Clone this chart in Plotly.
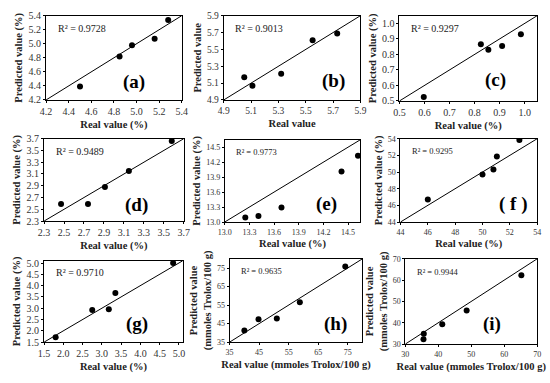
import plotly.graph_objects as go

# ---- data ----
panel_labels = ["(a)", "(b)", "(c)", "(d)", "(e)", "( f )", "(g)", "(h)", "(i)"]
r2_texts = ["R² = 0.9728", "R² = 0.9013", "R² = 0.9297", "R² = 0.9489", "R² = 0.9773",
            "R² = 0.9295", "R² = 0.9710", "R² = 0.9635", "R² = 0.9944"]

real_a = [4.50, 4.85, 4.96, 5.16, 5.28]
pred_a = [4.39, 4.82, 4.98, 5.07, 5.34]
real_b = [5.05, 5.11, 5.32, 5.55, 5.73]
pred_b = [5.17, 5.07, 5.21, 5.61, 5.69]
real_c = [0.597, 0.825, 0.855, 0.910, 0.985]
pred_c = [0.525, 0.865, 0.830, 0.855, 0.930]
real_d = [2.47, 2.74, 2.91, 3.15, 3.58]
pred_d = [2.59, 2.59, 2.88, 3.15, 3.66]
real_e = [13.25, 13.41, 13.69, 14.42, 14.62]
pred_e = [13.09, 13.12, 13.29, 14.01, 14.33]
real_f = [46.0, 50.0, 50.8, 51.05, 52.7]
pred_f = [46.7, 49.7, 50.3, 51.85, 53.85]
real_g = [1.80, 2.75, 3.18, 3.35, 4.85]
pred_g = [1.72, 2.92, 2.96, 3.67, 5.00]
real_h = [40.0, 44.8, 51.0, 58.8, 74.2]
pred_h = [41.3, 47.3, 47.8, 56.5, 75.8]
real_i = [35.5, 35.6, 41.2, 48.6, 65.2]
pred_i = [32.2, 34.8, 39.3, 45.8, 62.3]

ranges = [[4.2, 5.4], [4.9, 5.9], [0.5, 1.05], [2.3, 3.7], [13.0, 14.65],
          [44, 54], [1.5, 5.1], [35, 80], [30, 70]]
tick0s = [4.2, 4.9, 0.5, 2.3, 13.0, 44, 1.5, 35, 30]
dticks = [0.2, 0.2, 0.1, 0.2, 0.3, 2, 0.5, 10, 10]
tickfmts = [".1f", ".1f", ".1f", ".1f", ".1f", "d", ".1f", "d", "d"]
x_titles = ["Real value (%)", "Real value", "Real value (%)", "Real value (%)", "Real value (%)",
            "Real value (%)", "Real value (%)", "Real value (mmoles Trolox/100 g)",
            "Real value (mmoles Trolox/100 g)"]
y_titles = ["Predicted value (%)", "Predicted value", "Predicted value (%)", "Predicted value (%)",
            "Predicted value (%)", "Predicted value (%)", "Predicted value (%)",
            "Predicted value<br>(mmoles Trolox/100 g)", "Predicted value<br>(mmoles Trolox/100 g)"]

reals = [real_a, real_b, real_c, real_d, real_e, real_f, real_g, real_h, real_i]
preds = [pred_a, pred_b, pred_c, pred_d, pred_e, pred_f, pred_g, pred_h, pred_i]

# plot-box pixel positions (x0, x1, y0, y1)
boxes = [(40, 179, 10, 97), (222, 362, 10, 97), (402, 543, 10, 98),
         (38, 181, 137, 222), (223, 362, 138, 223), (403, 543, 137, 223),
         (38, 180, 263, 347), (228, 364, 261, 347), (408, 543, 261, 349)]
tick_sizes = [10, 9.5, 10, 10, 8, 8, 10, 8, 8]
label_x = [0.65, 0.8, 0.7, 0.66, 0.75, 0.82, 0.67, 0.8, 0.66]
label_y = [0.21, 0.22, 0.24, 0.2, 0.22, 0.22, 0.22, 0.22, 0.24]
W, H = 550, 383

SERIF = "Times New Roman, Liberation Serif, serif"
fig = go.Figure()
layout = dict(width=W, height=H, margin=dict(l=0, r=0, t=0, b=0),
              paper_bgcolor="white", plot_bgcolor="white", showlegend=False,
              font=dict(family=SERIF, color="black"))
annotations = []
for i in range(9):
    n = "" if i == 0 else str(i + 1)
    xa, ya = "x" + n, "y" + n
    x0, x1, y0, y1 = boxes[i]
    r = ranges[i]
    fig.add_trace(go.Scatter(x=r, y=r, mode="lines", line=dict(color="black", width=1),
                             xaxis=xa, yaxis=ya, hoverinfo="skip"))
    fig.add_trace(go.Scatter(x=reals[i], y=preds[i], mode="markers",
                             marker=dict(color="black", size=6), xaxis=xa, yaxis=ya))
    axcommon = dict(showline=True, linecolor="black", linewidth=1, mirror=True,
                    showgrid=False, zeroline=False, ticks="outside", ticklen=2,
                    tickcolor="black", ticklabeloverflow="allow",
                    tickfont=dict(family=SERIF, size=tick_sizes[i], color="#333"))
    layout["xaxis" + n] = dict(axcommon, domain=[x0 / W, x1 / W], range=r, anchor=ya,
                               tick0=tick0s[i], dtick=dticks[i], tickformat=tickfmts[i],
                               title=dict(text="<b>" + x_titles[i] + "</b>", standoff=4,
                                          font=dict(family=SERIF, size=10.5, color="#222")))
    layout["yaxis" + n] = dict(axcommon, domain=[1 - y1 / H, 1 - y0 / H], range=r, anchor=xa,
                               tick0=tick0s[i], dtick=dticks[i], tickformat=tickfmts[i],
                               title=dict(text="<b>" + y_titles[i] + "</b>", standoff=3,
                                          font=dict(family=SERIF, size=10.5, color="#222")))
    annotations.append(dict(text=r2_texts[i], xref=xa + " domain", yref=ya + " domain",
                            x=0.07, y=0.85, xanchor="left", yanchor="middle", showarrow=False,
                            font=dict(family=SERIF, size=10 if tick_sizes[i] > 9 else 8.5,
                                      color="#222")))
    annotations.append(dict(text="<b>" + panel_labels[i] + "</b>", xref=xa + " domain",
                            yref=ya + " domain", x=label_x[i], y=label_y[i], xanchor="center",
                            yanchor="middle", showarrow=False,
                            font=dict(family=SERIF, size=19, color="black")))
layout["annotations"] = annotations
fig.update_layout(**layout)
fig.write_html("out.html", config={"displayModeBar": False},
               post_script="document.body.style.margin='0';document.body.style.overflow='hidden';")
